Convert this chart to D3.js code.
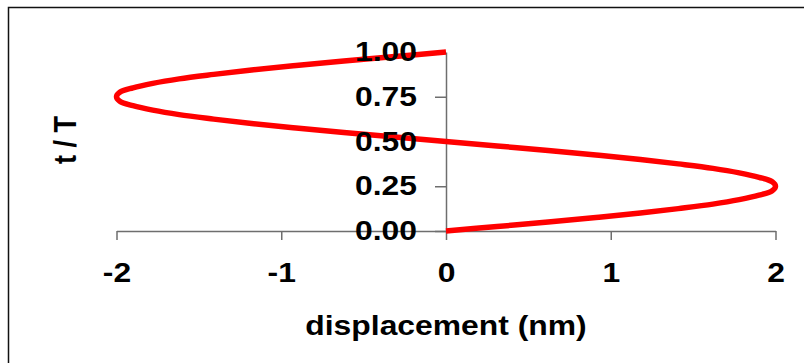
<!DOCTYPE html>
<html>
<head>
<meta charset="utf-8">
<script src="https://cdn.jsdelivr.net/npm/d3@7"></script>
<style>
  html, body { margin: 0; padding: 0; background: #fff; }
  svg { display: block; }
  text { font-family: "Liberation Sans", Arial, sans-serif; font-weight: bold; fill: #000; }
</style>
</head>
<body>
<svg id="chart" width="804" height="363"></svg>
<script>
// One period of the oscillation: time as a fraction of the period, and displacement in nm
const tOverT = [0, 0.025, 0.05, 0.075, 0.1, 0.125, 0.15, 0.175, 0.2, 0.225,
                0.25, 0.275, 0.3, 0.325, 0.35, 0.375, 0.4, 0.425, 0.45, 0.475,
                0.5, 0.525, 0.55, 0.575, 0.6, 0.625, 0.65, 0.675, 0.7, 0.725,
                0.75, 0.775, 0.8, 0.825, 0.85, 0.875, 0.9, 0.925, 0.95, 0.975, 1.0];
const displacementNm = [0, 0.31, 0.62, 0.91, 1.18, 1.41, 1.62, 1.78, 1.90, 1.98,
                        2.00, 1.98, 1.90, 1.78, 1.62, 1.41, 1.18, 0.91, 0.62, 0.31,
                        0, -0.31, -0.62, -0.91, -1.18, -1.41, -1.62, -1.78, -1.90, -1.98,
                        -2.00, -1.98, -1.90, -1.78, -1.62, -1.41, -1.18, -0.91, -0.62, -0.31, 0];
const xTicks = [-2, -1, 0, 1, 2];
const yTicks = [0, 0.25, 0.5, 0.75, 1];
const xTitle = "displacement (nm)";
const yTitle = "t / T";

const FONT = 27;
const SX = 1.18; // horizontal widening of the lettering

const svg = d3.select("#chart");

// outer frame
svg.append("rect")
  .attr("x", 8.5).attr("y", 7.5)
  .attr("width", 900).attr("height", 500)
  .attr("fill", "none").attr("stroke", "#111").attr("stroke-width", 1.5);

const x = d3.scaleLinear().domain([-2, 2]).range([116.5, 775.5]);
const y = d3.scaleLinear().domain([0, 1]).range([231, 52]);
const x0 = x(0);
const y0 = y(0);

const axisColor = "#6e6e6e";

// axis lines and tick marks
const xAxisLines = d3.axisBottom(x).tickValues(xTicks).tickSizeInner(9).tickSizeOuter(0).tickFormat("");
const yAxisLines = d3.axisLeft(y).tickValues(yTicks).tickSizeInner(11).tickSizeOuter(0).tickFormat("");

const gx = svg.append("g").attr("transform", `translate(0,${y0})`).call(xAxisLines);
const gy = svg.append("g").attr("transform", `translate(${x0},0)`).call(yAxisLines);
[gx, gy].forEach(g => {
  g.selectAll("path, line").attr("stroke", axisColor).attr("stroke-width", 1.5);
  g.selectAll("text").remove();
});

// the trajectory
const line = d3.line()
  .x((d, i) => x(displacementNm[i]))
  .y((d, i) => y(tOverT[i]))
  .curve(d3.curveCatmullRom.alpha(0.5));

svg.append("path")
  .datum(tOverT)
  .attr("d", line)
  .attr("fill", "none")
  .attr("stroke", "#ff0000")
  .attr("stroke-width", 5.5)
  .attr("stroke-linejoin", "round")
  .attr("stroke-linecap", "butt");

// widen a text element horizontally about its anchor point
function widen(sel) {
  sel.each(function () {
    const t = d3.select(this);
    const tx = +t.attr("x") || 0;
    const ty = +t.attr("y") || 0;
    t.attr("x", 0).attr("y", 0)
     .attr("transform", `translate(${tx},${ty}) scale(${SX},1)`);
  });
}

// tick labels, drawn above the trajectory
const xAxisLabels = d3.axisBottom(x).tickValues(xTicks).tickSize(9).tickPadding(23)
  .tickFormat(d => String(d));
const yAxisLabels = d3.axisLeft(y).tickValues(yTicks).tickSize(11).tickPadding(18)
  .tickFormat(d3.format(".2f"));

const lx = svg.append("g").attr("transform", `translate(0,${y0})`).call(xAxisLabels);
const ly = svg.append("g").attr("transform", `translate(${x0},0)`).call(yAxisLabels);
[lx, ly].forEach(g => {
  g.select(".domain").remove();
  g.selectAll("line").remove();
  g.attr("font-family", null).attr("font-size", null);
  g.selectAll("text")
    .attr("font-size", FONT)
    .attr("fill", "#000")
    .call(widen);
});

// axis titles
svg.append("text")
  .attr("text-anchor", "middle")
  .attr("font-size", FONT)
  .attr("transform", `translate(${x0},335) scale(${SX},1)`)
  .text(xTitle);

svg.append("text")
  .attr("text-anchor", "middle")
  .attr("font-size", FONT)
  .attr("transform", `translate(76,140) scale(${SX},1) rotate(-90)`)
  .text(yTitle);
</script>
</body>
</html>
